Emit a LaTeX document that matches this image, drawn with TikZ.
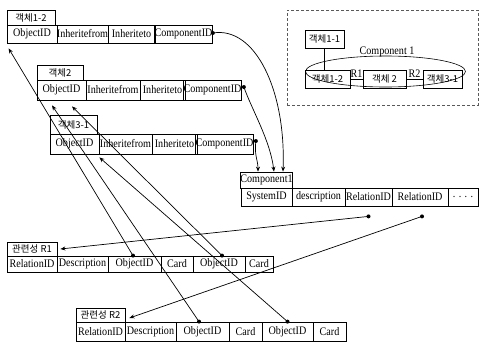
\documentclass[tikz,border=0pt]{standalone}
\usepackage{fontspec}
\setmainfont{Liberation Serif}[FakeStretch=0.88]
\newfontfamily\cjk{Noto Sans CJK KR}
\usetikzlibrary{arrows.meta,calc}
\tikzset{
  cellst/.style={draw, line width=0.8pt, inner sep=0pt, font=\fontsize{11.5}{13}\selectfont},
  titlest/.style={cellst, font=\cjk\fontsize{9.5}{11}\selectfont},
  link/.style={line width=0.7pt, -{Stealth[length=5pt,width=4pt]}},
  framest/.style={draw=black!65, densely dashed, line width=0.7pt, inner sep=0pt},
  labst/.style={inner sep=0pt, font=\fontsize{11.5}{13}\selectfont}
}
\newcommand\mkcell[7][cellst]{%
  \node[#1, minimum width={(#5-#3)*1pt}, minimum height={(#6-#4)*1pt}] (#2) at ({(#3+#5)/2},{(#4+#6)/2}) {#7};}
\begin{document}
\begin{tikzpicture}[x=1pt,y=-1pt]
\useasboundingbox (0,0) rectangle (480,351);
% ---- inset ----
\mkcell[framest]{frame}{287}{10}{478}{105}{}
\draw[line width=0.6pt] (385.5,71.5) ellipse [x radius=80pt, y radius=15.5pt];
\mkcell[titlest]{i11}{305}{30}{344}{48}{객체1-1}
\mkcell[titlest]{i12}{305}{70}{350}{88}{객체1-2}
\mkcell[titlest]{i2}{363}{70}{406}{88}{객체 2}
\mkcell[titlest]{i31}{423}{70}{462}{88}{객체3-1}
\node[labst] (clab) at (387,52) {Component 1};
\draw[line width=0.7pt] (i11.south) -- (i11.south |- i12.north);
\draw[line width=0.7pt] (i12.east) -- node[labst, above=1pt] (lr1) {R1} (i2.west);
\draw[line width=0.7pt] (i2.east) -- node[labst, above=1pt] (lr2) {R2} (i31.west);
% ---- 객체1-2 ----
\mkcell[titlest]{a-title}{7}{10}{55}{25}{객체1-2}
\mkcell{a-obj}{7}{25}{57}{43}{ObjectID}
\mkcell{a-from}{57}{25}{108}{43}{Inheritefrom}
\mkcell{a-to}{108}{25}{155}{43}{Inheriteto}
\mkcell{a-comp}{155}{25}{212}{43}{ComponentID}
% ---- 객체2 ----
\mkcell[titlest]{b-title}{37}{65}{83}{80}{객체2}
\mkcell{b-obj}{37}{80}{86}{100}{ObjectID}
\mkcell{b-from}{86}{80}{140}{100}{Inheritefrom}
\mkcell{b-to}{140}{80}{185}{100}{Inheriteto}
\mkcell{b-comp}{185}{80}{240}{100}{ComponentID}
% ---- 객체3-1 ----
\mkcell[titlest]{c-title}{50}{115}{97}{134}{객체3-1}
\mkcell{c-obj}{50}{134}{99}{154}{ObjectID}
\mkcell{c-from}{99}{134}{152}{154}{Inheritefrom}
\mkcell{c-to}{152}{134}{197}{154}{Inheriteto}
\mkcell{c-comp}{197}{134}{252}{154}{ComponentID}
% ---- Component1 ----
\mkcell{k-title}{241}{172}{292}{188}{Component1}
\mkcell{k-sys}{241}{188}{292}{206}{SystemID}
\mkcell{k-desc}{292}{188}{345}{206}{description}
\mkcell{k-rel1}{345}{188}{392}{206}{RelationID}
\mkcell{k-rel2}{392}{188}{448}{206}{RelationID}
\mkcell{k-more}{448}{188}{478}{206}{. . . .}
% ---- 관련성 R1 ----
\mkcell[titlest]{r1-title}{7}{242}{57}{256}{관련성 R1}
\mkcell{r1-rid}{7}{256}{57}{272}{RelationID}
\mkcell{r1-desc}{57}{256}{108}{272}{Description}
\mkcell{r1-o1}{108}{256}{161}{272}{ObjectID}
\mkcell{r1-c1}{161}{256}{193}{272}{Card}
\mkcell{r1-o2}{193}{256}{245}{272}{ObjectID}
\mkcell{r1-c2}{245}{256}{273}{272}{Card}
% ---- 관련성 R2 ----
\mkcell[titlest]{r2-title}{76}{308}{125}{322}{관련성 R2}
\mkcell{r2-rid}{76}{322}{125}{341}{RelationID}
\mkcell{r2-desc}{125}{322}{176}{341}{Description}
\mkcell{r2-o1}{176}{322}{229}{341}{ObjectID}
\mkcell{r2-c1}{229}{322}{262}{341}{Card}
\mkcell{r2-o2}{262}{322}{313}{341}{ObjectID}
\mkcell{r2-c2}{313}{322}{346}{341}{Card}
% ---- ComponentID -> Component1 ----
\fill ([yshift=1pt]a-comp.east) circle (2pt);
\draw[link] ([yshift=1pt]a-comp.east) .. controls (255,26) and (286,90) .. ([xshift=16.5pt]k-title.north);
\fill ([xshift=2pt,yshift=3pt]b-comp.east) circle (2pt);
\draw[link] ([xshift=2pt,yshift=3pt]b-comp.east) .. controls (252,110) and (270,140) .. ([xshift=7.5pt]k-title.north);
\fill ([xshift=2pt,yshift=3pt]c-comp.east) circle (2pt);
\draw[link] ([xshift=2pt,yshift=3pt]c-comp.east) .. controls (254,155) and (258,160) .. ([xshift=-8.5pt]k-title.north);
% ---- RelationID -> relations ----
\fill ([yshift=-10pt]k-rel1.south) circle (2pt);
\draw[link] ([yshift=-10pt]k-rel1.south) -- ([xshift=3pt]r1-title.east);
\fill ([xshift=2pt,yshift=-10pt]k-rel2.south) circle (2pt);
\draw[link] ([xshift=2pt,yshift=-10pt]k-rel2.south) -- ([xshift=4pt,yshift=-3pt]r2-title.east);
% ---- relation ObjectIDs -> objects ----
\fill ([xshift=-1.5pt]r1-o1.north) circle (2pt);
\draw[link] ([xshift=-1.5pt]r1-o1.north) -- ([xshift=2pt,yshift=-5pt]a-obj.south west);
\fill ([xshift=3pt]r1-o2.north) circle (2pt);
\draw[link] ([xshift=3pt]r1-o2.north) -- ([xshift=10.5pt,yshift=-6pt]b-obj.south);
\fill ([xshift=-3.5pt]r2-o1.north) circle (2pt);
\draw[link] ([xshift=-3.5pt]r2-o1.north) -- ([xshift=-9.5pt,yshift=-5pt]b-obj.south);
\fill (r2-o2.north) circle (2pt);
\draw[link] (r2-o2.north) -- ([yshift=-3pt]c-obj.south east);
\end{tikzpicture}
\end{document}
